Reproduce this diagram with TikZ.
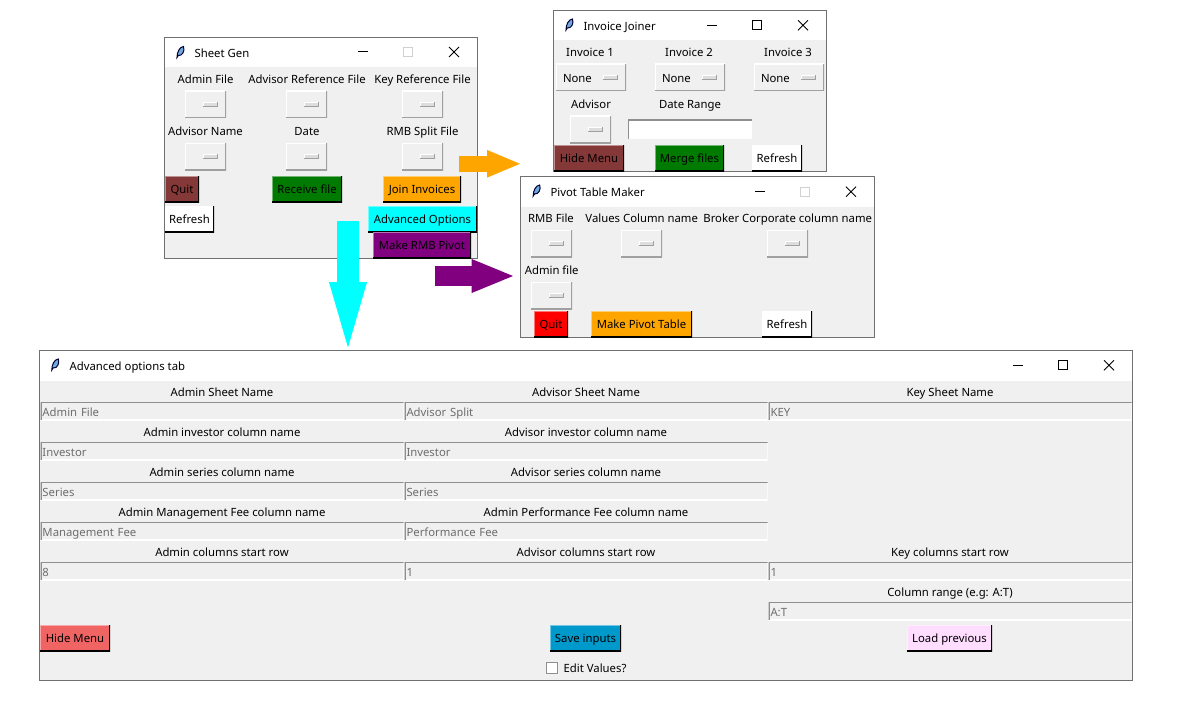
\documentclass[tikz,border=0pt]{standalone}
\usepackage{fontspec}
\usepackage{xcolor}
\usepackage{tikz}
\usetikzlibrary{arrows.meta}
\setmainfont{Noto Sans}

\definecolor{winbg}{HTML}{F0F0F0}
\definecolor{winedge}{HTML}{707070}
\definecolor{menugray}{HTML}{A0A0A0}
\definecolor{entryedge}{HTML}{8F8F8F}
\definecolor{entrytext}{HTML}{6D6D6D}
\definecolor{quitbrown}{HTML}{853838}
\definecolor{hidered}{HTML}{F06464}
\definecolor{saveblue}{HTML}{0099CC}
\definecolor{loadpink}{HTML}{FFDDFF}
\definecolor{tkgreen}{HTML}{007A00}
\definecolor{tkorange}{HTML}{FFA500}
\definecolor{tkpurple}{HTML}{800080}
\definecolor{tkcyan}{HTML}{00FFFF}
\definecolor{tkred}{HTML}{FF0000}
\definecolor{featherblue}{HTML}{6FA8DC}

\newcommand{\pxu}{0.75pt}
\newcommand{\uifont}{\fontsize{8.5}{10}\selectfont}
% feather icon of a title bar
\newcommand{\featherglyph}[2]{%
  \filldraw[shift={(#1,#2-0.5)}, fill=featherblue, draw=black!80!blue, line width=0.75pt]
    (-3.5,5.5) .. controls (-3.5,0) and (-1,-5) .. (3,-5.5) .. controls (4.5,-1) and (2,4) .. (-2.2,3.5) -- cycle;}
% minimise, maximise and close glyphs: x of each, y, colour of the maximise box
\newcommand{\wincontrols}[5]{%
  \draw[black, line width=0.75pt] (#1,#4) -- (#1+10,#4);
  \draw[#5, line width=0.75pt] (#2,#4-4.5) rectangle (#2+9,#4+4.5);
  \draw[black, line width=0.6pt] (#3,#4-5) -- (#3+10,#4+5) (#3,#4+5) -- (#3+10,#4-5);}

\begin{document}
\begin{tikzpicture}[
    x=0.75pt, y=-0.75pt,
    winbox/.style n args={2}{draw=winedge, line width=0.75pt, fill=winbg, rectangle, inner sep=0pt, outer sep=0pt, anchor=north west, minimum width=#1*\pxu, minimum height=#2*\pxu},
    titlebar/.style={fill=white, rectangle, inner sep=0pt, outer sep=0pt, anchor=north west, minimum width=#1*\pxu, minimum height=29.5*\pxu},
    titletext/.style={font=\uifont, inner sep=0pt, anchor=west, text height=9.5pt, text depth=2pt},
    lbl/.style={font=\uifont, inner sep=0pt, text height=9.5pt, text depth=2pt},
    btn/.style n args={2}{rectangle, inner sep=0pt, minimum width=#1*\pxu, minimum height=26*\pxu, fill=#2, font=\uifont, text height=8.5pt, text depth=2pt,
      path picture={
        \draw[#2!55!white, line width=1.5pt] (path picture bounding box.north east) -- (path picture bounding box.north west) -- (path picture bounding box.south west);
        \draw[black, line width=2pt] (path picture bounding box.south west) -- (path picture bounding box.south east) -- (path picture bounding box.north east);}},
    menubtn/.style={rectangle, inner sep=0pt, minimum width=#1*\pxu, minimum height=27*\pxu, fill=winbg, font=\uifont, text height=9pt, text depth=2pt,
      path picture={
        \draw[white, line width=1.5pt] (path picture bounding box.north east) -- (path picture bounding box.north west) -- (path picture bounding box.south west);
        \draw[menugray, line width=2pt] (path picture bounding box.south west) -- (path picture bounding box.south east) -- (path picture bounding box.north east);
        \fill[menugray] ([shift={(-23,-2.5)}]path picture bounding box.east) rectangle ([shift={(-8,2.5)}]path picture bounding box.east);
        \fill[white] ([shift={(-23,-2.5)}]path picture bounding box.east) rectangle ([shift={(-9,1.5)}]path picture bounding box.east);
        \fill[winbg!92!black] ([shift={(-22,-1.5)}]path picture bounding box.east) rectangle ([shift={(-9,1.5)}]path picture bounding box.east);}},
    nonemenu/.style={menubtn=70, text width=56*\pxu, align=left},
    entrybox/.style={rectangle, inner sep=0pt, minimum width=363*\pxu, minimum height=18*\pxu, text width=359*\pxu, align=left, font=\uifont, text=entrytext, text height=9.5pt, text depth=2pt,
      path picture={
        \draw[white, line width=1.5pt] (path picture bounding box.south west) -- (path picture bounding box.south east) -- (path picture bounding box.north east);
        \draw[entryedge, line width=1.5pt] (path picture bounding box.north east) -- (path picture bounding box.north west) -- (path picture bounding box.south west);}},
    dateentry/.style={rectangle, inner sep=0pt, fill=white, minimum width=124*\pxu, minimum height=19*\pxu,
      path picture={
        \draw[entryedge, line width=1.5pt] (path picture bounding box.north east) -- (path picture bounding box.north west) -- (path picture bounding box.south west);}},
    checkbox/.style={rectangle, inner sep=0pt, outer sep=0pt, fill=white, draw=entryedge, line width=0.75pt, minimum size=11*\pxu},
    bigarrow/.style n args={3}{line width=#1pt, -{Triangle[length=#2pt, width=#3pt, line width=0pt]}}
]
\useasboundingbox (0,0) rectangle (1186,710);
\fill[white] (0,0) rectangle (1186,710);

% Sheet Gen
\node[winbox={313}{221}] (sheetgen) at (164.5,37.5) {};
\node[titlebar=312] (sheetbar) at (165,38) {};
\featherglyph{180.5}{52.5}
\node[titletext] (sheettitle) at (194.3,52.7) {Sheet Gen};
\wincontrols{358}{403}{449}{52}{black!18}
\node[lbl] (adminlbl) at (205.5,78.7) {Admin File};
\node[lbl] (advisorlbl) at (307,78.7) {Advisor Reference File};
\node[lbl] (keylbl) at (422.5,78.7) {Key Reference File};
\node[menubtn=41] (adminmenu) at (205.5,104.5) {};
\node[menubtn=41] (advisormenu) at (306.5,104.5) {};
\node[menubtn=41] (keymenu) at (422.5,104.5) {};
\node[lbl] (namelbl) at (205.5,130.7) {Advisor Name};
\node[lbl] (datelbl) at (307,130.7) {Date};
\node[lbl] (rmblbl) at (422.5,130.7) {RMB Split File};
\node[menubtn=41] (namemenu) at (205.5,156.5) {};
\node[menubtn=41] (datemenu) at (306.5,156.5) {};
\node[menubtn=41] (rmbmenu) at (422.5,156.5) {};
\node[btn={34}{quitbrown}] (quitbtn) at (182,189) {Quit};
\node[btn={70}{tkgreen}] (receivebtn) at (307,189) {Receive file};
\node[btn={78}{tkorange}] (joinbtn) at (422,189) {Join Invoices};
\node[btn={49}{white}] (refreshbtn) at (189.5,219) {Refresh};
\node[btn={109}{tkcyan}] (advancedbtn) at (422.5,219) {Advanced Options};
\node[btn={98}{tkpurple}] (pivotbtn) at (422,245) {Make RMB Pivot};

% Invoice Joiner
\node[winbox={273}{161}] (joiner) at (553.5,10.5) {};
\node[titlebar=272] (joinerbar) at (554,11) {};
\featherglyph{569.5}{25}
\node[titletext] (joinertitle) at (583.3,25.7) {Invoice Joiner};
\wincontrols{707}{752.3}{798}{25.3}{black}
\node[lbl] (inv1lbl) at (590,51.7) {Invoice 1};
\node[lbl] (inv2lbl) at (689,51.7) {Invoice 2};
\node[lbl] (inv3lbl) at (788,51.7) {Invoice 3};
\node[nonemenu] (inv1menu) at (591,77.5) {None};
\node[nonemenu] (inv2menu) at (690,77.5) {None};
\node[nonemenu] (inv3menu) at (789,77.5) {None};
\node[lbl] (joinadvlbl) at (591,103.7) {Advisor};
\node[lbl] (rangelbl) at (690,103.7) {Date Range};
\node[menubtn=41] (joinadvmenu) at (590.5,129.5) {};
\node[dateentry] (rangeentry) at (690,129.5) {};
\node[btn={70}{quitbrown}] (hidejoinbtn) at (589,158) {Hide Menu};
\node[btn={69}{tkgreen}] (mergebtn) at (689.5,158) {Merge files};
\node[btn={50}{white}] (joinrefresh) at (777,158) {Refresh};

% Pivot Table Maker
\node[winbox={354}{160.5}] (pivot) at (520.5,176.8) {};
\node[titlebar=353] (pivotbar) at (521,177.3) {};
\featherglyph{536.7}{191}
\node[titletext] (pivottitle) at (550.3,191.7) {Pivot Table Maker};
\wincontrols{755}{800.5}{846}{191.7}{black!18}
\node[lbl] (rmbfilelbl) at (551,217.7) {RMB File};
\node[lbl] (valueslbl) at (641.7,217.7) {Values Column name};
\node[lbl] (brokerlbl) at (787.7,217.7) {Broker Corporate column name};
\node[menubtn=41] (rmbfilemenu) at (551.5,243.5) {};
\node[menubtn=41] (valuesmenu) at (641.5,243.5) {};
\node[menubtn=41] (brokermenu) at (787.5,243.5) {};
\node[lbl] (adminfilelbl) at (551.7,269.7) {Admin file};
\node[menubtn=41] (adminfilemenu) at (551.5,295.5) {};
\node[btn={34}{tkred}] (pivotquit) at (551,324) {Quit};
\node[btn={101}{tkorange}] (makepivot) at (641.5,324) {Make Pivot Table};
\node[btn={50}{white}] (pivotrefresh) at (787,324) {Refresh};

% Advanced options tab
\node[winbox={1093}{330}] (advanced) at (39.5,350.5) {};
\node[titlebar=1092] (advancedbar) at (40,351) {};
\featherglyph{55.3}{365}
\node[titletext] (advancedtitle) at (69.3,365.7) {Advanced options tab};
\wincontrols{1013}{1058.3}{1104}{365.3}{black}
\node[lbl] (adminsheetlbl) at (222,391.7) {Admin Sheet Name};
\node[lbl] (advsheetlbl) at (586,391.7) {Advisor Sheet Name};
\node[lbl] (keysheetlbl) at (950,391.7) {Key Sheet Name};
\node[entrybox] (adminsheet) at (222,411.3) {Admin File};
\node[entrybox] (advsheet) at (586,411.3) {Advisor Split};
\node[entrybox] (keysheet) at (950,411.3) {KEY};
\node[lbl] (admininvlbl) at (222,431.7) {Admin investor column name};
\node[lbl] (advinvlbl) at (586,431.7) {Advisor investor column name};
\node[entrybox] (admininv) at (222,451.3) {Investor};
\node[entrybox] (advinv) at (586,451.3) {Investor};
\node[lbl] (adminserlbl) at (222,471.7) {Admin series column name};
\node[lbl] (advserlbl) at (586,471.7) {Advisor series column name};
\node[entrybox] (adminser) at (222,491.3) {Series};
\node[entrybox] (advser) at (586,491.3) {Series};
\node[lbl] (mgmtlbl) at (222,511.7) {Admin Management Fee column name};
\node[lbl] (perflbl) at (586,511.7) {Admin Performance Fee column name};
\node[entrybox] (mgmt) at (222,531.3) {Management Fee};
\node[entrybox] (perf) at (586,531.3) {Performance Fee};
\node[lbl] (adminrowlbl) at (222,551.7) {Admin columns start row};
\node[lbl] (advrowlbl) at (586,551.7) {Advisor columns start row};
\node[lbl] (keyrowlbl) at (950,551.7) {Key columns start row};
\node[entrybox] (adminrow) at (222,571.3) {8};
\node[entrybox] (advrow) at (586,571.3) {1};
\node[entrybox] (keyrow) at (950,571.3) {1};
\node[lbl] (rangecollbl) at (950,591.7) {Column range (e.g: A:T)};
\node[entrybox] (rangecol) at (950,611.3) {A:T};
\node[btn={70}{hidered}] (hideadvbtn) at (75,638) {Hide Menu};
\node[btn={71}{saveblue}] (savebtn) at (585.5,638) {Save inputs};
\node[btn={85}{loadpink}] (loadbtn) at (949.5,638) {Load previous};
\node[checkbox] (editcheck) at (552,667.5) {};
\node[lbl] (editlbl) at (595,667.5) {Edit Values?};

% arrows between the windows
\coordinate (orangestart) at (459,163.8);
\coordinate (orangeend) at (520,163.8);
\coordinate (purplestart) at (435,276);
\coordinate (purpleend) at (513,276);
\coordinate (cyanstart) at (348,221);
\coordinate (cyanend) at (348,347.5);
\draw[bigarrow={12.2}{24.75}{20.8}, tkorange] (orangestart) -- (orangeend);
\draw[bigarrow={15}{31}{25.5}, tkpurple] (purplestart) -- (purpleend);
\draw[bigarrow={16.5}{49}{28.5}, tkcyan] (cyanstart) -- (cyanend);
\end{tikzpicture}
\end{document}
